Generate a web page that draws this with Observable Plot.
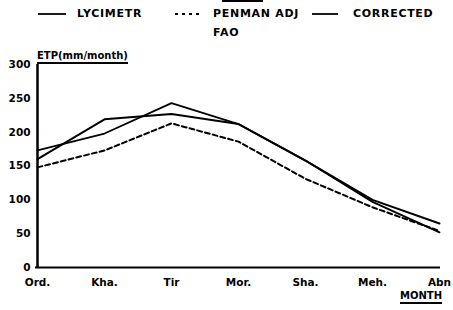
<!DOCTYPE html>
<html><head><meta charset="utf-8">
<script src="https://cdn.jsdelivr.net/npm/d3@7"></script>
<script src="https://cdn.jsdelivr.net/npm/@observablehq/plot@0.6"></script>
<style>
body{margin:0;background:#fff;}
#wrap{position:relative;width:453px;height:310px;font-family:"DejaVu Sans",sans-serif;font-weight:bold;color:#000;}
.lab{position:absolute;font-size:10px;line-height:10px;white-space:nowrap;}
.leg{font-size:11px;line-height:11px;letter-spacing:0.7px;}
.ul{border-bottom:2.5px solid #000;padding-bottom:1px;}
svg.legl{position:absolute;}
</style></head>
<body><div id="wrap"></div>
<script>
const months = ["Ord.", "Kha.", "Tir", "Mor.", "Sha.", "Meh.", "Abn"];
const lycimetr = [160, 219, 227, 212, 158, 100, 65];
const corrected = [173, 198, 243, 212, 158, 97, 52];
const penman = [148, 173, 213, 186, 131, 89, 54];
const yTicks = [0, 50, 100, 150, 200, 250, 300];

const rows = (vals, s) => months.map((m, i) => ({month: m, v: vals[i], s}));
const dLyc = rows(lycimetr, "LYCIMETR");
const dCor = rows(corrected, "CORRECTED");
const dPen = rows(penman, "PENMAN ADJ FAO");

const chart = Plot.plot({
  width: 453, height: 310,
  marginTop: 64, marginBottom: 43, marginLeft: 35, marginRight: 13,
  style: {fontFamily: "DejaVu Sans, sans-serif", fontWeight: "bold", fontSize: "10.5px", color: "#000", background: "transparent"},
  x: {type: "point", domain: months, padding: 0},
  y: {domain: [0, 300]},
  marks: [
    Plot.axisY({ticks: yTicks, tickSize: 0, tickPadding: 5, label: null}),
    Plot.axisX({tickSize: 0, tickPadding: 11, label: null}),
    Plot.ruleY([0], {stroke: "#000", strokeWidth: 2}),
    Plot.ruleX([months[0]], {stroke: "#000", strokeWidth: 2.5}),
    Plot.line(dPen, {x: "month", y: "v", stroke: "#000", strokeWidth: 2, strokeDasharray: "5,3"}),
    Plot.line(dCor, {x: "month", y: "v", stroke: "#000", strokeWidth: 1.8}),
    Plot.line(dLyc, {x: "month", y: "v", stroke: "#000", strokeWidth: 2})
  ]
});
const wrap = document.getElementById("wrap");
chart.style.position = "absolute"; chart.style.left = "0"; chart.style.top = "0";
wrap.appendChild(chart);

function lab(text, x, y, cls) {
  const d = document.createElement("div");
  d.className = "lab" + (cls ? " " + cls : "");
  d.textContent = text; d.style.left = x + "px"; d.style.top = y + "px";
  wrap.appendChild(d); return d;
}
function legLine(x, y, w, dash) {
  const ns = "http://www.w3.org/2000/svg";
  const s = document.createElementNS(ns, "svg");
  s.setAttribute("class", "legl"); s.setAttribute("width", w); s.setAttribute("height", 4);
  s.style.left = x + "px"; s.style.top = (y - 2) + "px";
  const l = document.createElementNS(ns, "line");
  l.setAttribute("x1", 0); l.setAttribute("x2", w); l.setAttribute("y1", 2); l.setAttribute("y2", 2);
  l.setAttribute("stroke", "#000"); l.setAttribute("stroke-width", 1.8);
  if (dash) l.setAttribute("stroke-dasharray", dash);
  s.appendChild(l); wrap.appendChild(s);
}
legLine(38, 14, 28, null);
lab("LYCIMETR", 77, 8, "leg");
legLine(175, 14, 25, "3,4");
lab("PENMAN ADJ", 213, 8, "leg");
lab("FAO", 213, 27, "leg");
legLine(312, 14, 26, null);
lab("CORRECTED", 353, 8, "leg");
const topBar = document.createElement("div");
topBar.style.cssText = "position:absolute;left:222px;top:0;width:41px;height:2px;background:#000";
wrap.appendChild(topBar);
lab("ETP(mm/month)", 37, 51, "ul");
lab("MONTH", 400, 291, "ul");
</script></body></html>
